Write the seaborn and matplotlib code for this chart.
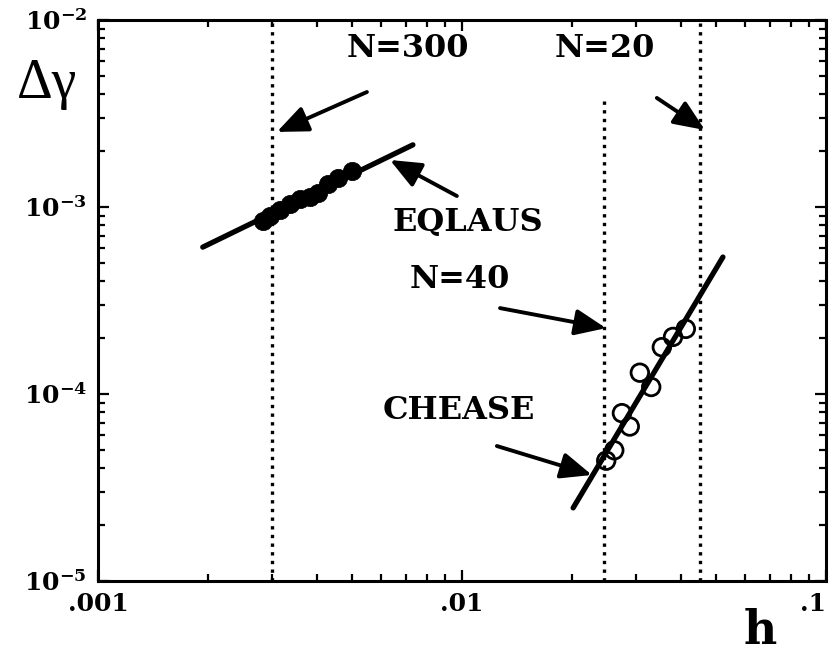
import matplotlib
matplotlib.use("Agg")
import matplotlib.pyplot as plt
import seaborn as sns
import pandas as pd
from matplotlib.ticker import FixedLocator, FixedFormatter, LogLocator, NullFormatter

# ---------------- data ----------------
eqlaus_h = [0.00284, 0.00297, 0.00316, 0.00337, 0.00359, 0.00382, 0.00402, 0.00428, 0.00456, 0.00499]
eqlaus_dg = [8.4e-4, 8.95e-4, 9.6e-4, 1.04e-3, 1.10e-3, 1.13e-3, 1.19e-3, 1.33e-3, 1.43e-3, 1.56e-3]

chease_h = [0.0249, 0.0262, 0.0275, 0.0289, 0.0308, 0.0331, 0.0354, 0.0380, 0.0412]
chease_dg = [4.4e-5, 5.0e-5, 7.9e-5, 6.7e-5, 1.30e-4, 1.09e-4, 1.78e-4, 2.02e-4, 2.23e-4]

eqlaus_fit_h = [0.00194, 0.00733]
eqlaus_fit_dg = [6.1e-4, 2.15e-3]
chease_fit_h = [0.0202, 0.0521]
chease_fit_dg = [2.46e-5, 5.4e-4]

n_labels = ["N=300", "N=40", "N=20"]
n_h = [0.003, 0.0245, 0.045]
n_top = [1e-2, 3.8e-3, 1e-2]

x_ticks = [0.001, 0.01, 0.1]
x_ticklabels = [".001", ".01", ".1"]
y_ticks = [1e-5, 1e-4, 1e-3, 1e-2]
y_ticklabels = [r"$\mathbf{10}^{\mathbf{-5}}$", r"$\mathbf{10}^{\mathbf{-4}}$",
                r"$\mathbf{10}^{\mathbf{-3}}$", r"$\mathbf{10}^{\mathbf{-2}}$"]

# ---------------- style ----------------
sns.set_style("ticks")
plt.rcParams["font.family"] = ["DejaVu Serif", "DejaVu Sans"]
plt.rcParams["mathtext.fontset"] = "dejavuserif"
plt.rcParams["text.color"] = "black"
plt.rcParams["axes.labelcolor"] = "black"
plt.rcParams["xtick.color"] = "black"
plt.rcParams["ytick.color"] = "black"

fig = plt.figure(figsize=(8.34, 6.54), dpi=100)
ax = fig.add_axes([98 / 834, 73 / 654, 728 / 834, 561 / 654])
ax.set_xscale("log")
ax.set_yscale("log")
ax.set_xlim(0.001, 0.1)
ax.set_ylim(1e-5, 1e-2)

# dotted vertical lines
ax.vlines(n_h, [1e-5] * len(n_h), n_top, colors="black",
          linestyles=(0, (1, 1.6)), linewidth=2.4, zorder=1)

# fit lines
fit_df1 = pd.DataFrame({"h": eqlaus_fit_h, "dg": eqlaus_fit_dg})
fit_df2 = pd.DataFrame({"h": chease_fit_h, "dg": chease_fit_dg})
sns.lineplot(data=fit_df1, x="h", y="dg", color="black", linewidth=3.8, ax=ax, zorder=2)
sns.lineplot(data=fit_df2, x="h", y="dg", color="black", linewidth=3.8, ax=ax, zorder=2)

# data points
df_e = pd.DataFrame({"h": eqlaus_h, "dg": eqlaus_dg})
df_c = pd.DataFrame({"h": chease_h, "dg": chease_dg})
sns.scatterplot(data=df_e, x="h", y="dg", s=175, color="black", edgecolor="black",
                linewidth=0.5, ax=ax, zorder=3)
sns.scatterplot(data=df_c, x="h", y="dg", s=160, facecolor="none", edgecolor="black",
                linewidth=2.0, ax=ax, zorder=3)

# ticks
ax.xaxis.set_major_locator(FixedLocator(x_ticks))
ax.xaxis.set_major_formatter(FixedFormatter(x_ticklabels))
ax.yaxis.set_major_locator(FixedLocator(y_ticks))
ax.yaxis.set_major_formatter(FixedFormatter(y_ticklabels))
ax.xaxis.set_minor_locator(LogLocator(base=10, subs=range(2, 10)))
ax.yaxis.set_minor_locator(LogLocator(base=10, subs=range(2, 10)))
ax.xaxis.set_minor_formatter(NullFormatter())
ax.yaxis.set_minor_formatter(NullFormatter())
ax.tick_params(which="both", direction="in", top=True, right=True, width=1.6, colors="black")
ax.tick_params(which="major", length=8, labelsize=18, pad=8)
ax.tick_params(which="minor", length=5)
xlabels = ax.get_xticklabels()
for lab in xlabels:
    lab.set_fontweight("bold")
xlabels[-1].set_horizontalalignment("right")
for sp in ax.spines.values():
    sp.set_linewidth(2.2)
    sp.set_color("black")
ax.set_xlabel("")
ax.set_ylabel("")

# annotations
tfont = dict(fontsize=23, fontweight="bold", family="DejaVu Serif", ha="center", va="center",
             color="black")
ax.text(0.00711, 7.0e-3, "N=300", **tfont)
ax.text(0.0247, 7.0e-3, "N=20", **tfont)
ax.text(0.01039, 8.3e-4, "EQLAUS", **tfont)
ax.text(0.00987, 4.12e-4, "N=40", **tfont)
ax.text(0.00981, 8.2e-5, "CHEASE", **tfont)

aprops = dict(arrowstyle="-|>,head_length=0.9,head_width=0.38", lw=2.8, color="black",
              shrinkA=0, shrinkB=0, mutation_scale=21)
ax.annotate("", xy=(0.0031, 2.52e-3), xytext=(0.00548, 4.12e-3), arrowprops=aprops)
ax.annotate("", xy=(0.0465, 2.58e-3), xytext=(0.0343, 3.83e-3), arrowprops=aprops)
ax.annotate("", xy=(0.00634, 1.784e-3), xytext=(0.00968, 1.145e-3), arrowprops=aprops)
ax.annotate("", xy=(0.02487, 2.25e-4), xytext=(0.01272, 2.88e-4), arrowprops=aprops)
ax.annotate("", xy=(0.02275, 3.69e-5), xytext=(0.01247, 5.27e-5), arrowprops=aprops)

# axis labels
fig.text(47 / 834, 1 - 84 / 654, "Δγ", fontsize=40, family=["Liberation Serif", "DejaVu Serif"],
         ha="center", va="center", color="black")
fig.text(760 / 834, 1 - 631 / 654, "h", fontsize=33, fontweight="bold", family="DejaVu Serif",
         ha="center", va="center", color="black")

fig.savefig("out.png", dpi=100)
